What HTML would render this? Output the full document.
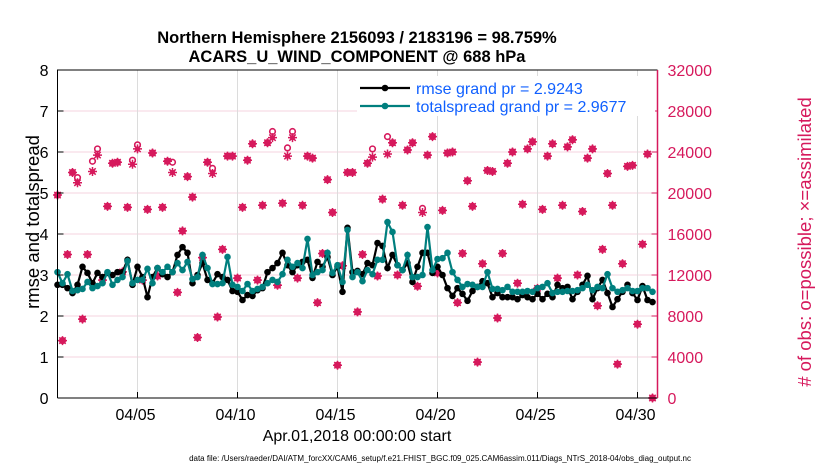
<!DOCTYPE html>
<html><head><meta charset="utf-8"><style>
html,body{margin:0;padding:0;background:#fff;}
svg{display:block;font-family:"Liberation Sans",sans-serif;}
</style></head><body>
<svg id="chart" width="830" height="470" viewBox="0 0 830 470" xmlns="http://www.w3.org/2000/svg">
<rect width="830" height="470" fill="#fff"/>
<text x="357" y="43" text-anchor="middle" font-size="16.5" font-weight="bold">Northern Hemisphere 2156093 / 2183196 = 98.759%</text>
<text x="357" y="62" text-anchor="middle" font-size="16.5" font-weight="bold">ACARS_U_WIND_COMPONENT @ 688 hPa</text>
<g id="grid"></g>
<g id="obs"></g>
<g id="lines"></g>
<g id="axes"></g>
<text transform="translate(39,222) rotate(-90)" text-anchor="middle" font-size="18.5">rmse and totalspread</text>
<text transform="translate(811,242) rotate(-90)" text-anchor="middle" font-size="18.5" fill="#d6195c"># of obs: o=possible; ×=assimilated</text>
<text x="357" y="441" text-anchor="middle" font-size="16">Apr.01,2018 00:00:00 start</text>
<text x="440" y="461" text-anchor="middle" font-size="8">data file: /Users/raeder/DAI/ATM_forcXX/CAM6_setup/f.e21.FHIST_BGC.f09_025.CAM6assim.011/Diags_NTrS_2018-04/obs_diag_output.nc</text>
<g id="legend"></g>
</svg>
<script>
const xTickLabels = ["04/05","04/10","04/15","04/20","04/25","04/30"];
const xTickDays = [4,9,14,19,24,29];
const yTicks = [0,1,2,3,4,5,6,7,8];
const y2Ticks = [0,4000,8000,12000,16000,20000,24000,28000,32000];
const stepDays = 0.25;
const rmse = [2.76,2.76,2.68,2.56,2.76,3.20,3.05,2.80,3.05,2.95,3.05,3.00,3.07,3.07,3.37,2.76,3.20,2.95,2.46,2.95,
3.17,3.02,2.95,3.07,3.49,3.68,3.54,2.80,3.00,3.29,2.88,2.80,3.02,2.95,2.88,2.61,2.59,2.39,2.51,2.49,
2.63,2.68,3.07,3.17,3.29,3.54,3.24,3.07,3.24,3.32,3.37,2.93,3.32,3.20,3.44,3.00,3.20,2.59,4.15,3.07,
3.10,3.02,3.29,3.24,3.78,3.71,3.17,3.49,3.24,3.12,3.29,2.83,3.20,3.54,3.54,3.05,3.20,3.00,2.68,2.49,
2.68,2.54,2.37,2.61,2.71,2.85,2.80,2.46,2.56,2.46,2.46,2.46,2.41,2.51,2.46,2.41,2.54,2.41,2.54,2.46,
2.76,2.68,2.71,2.41,2.59,2.76,2.98,2.41,2.68,2.88,2.56,2.22,2.41,2.59,2.76,2.56,2.39,2.73,2.39,2.34];
const spread = [3.07,2.80,3.02,2.61,2.63,2.66,2.83,2.68,2.73,2.80,3.07,2.76,2.88,2.95,3.34,2.80,2.88,2.88,3.15,2.80,
3.17,3.07,3.20,3.07,3.29,3.12,3.32,2.90,2.95,3.49,3.17,2.78,2.78,2.80,3.44,2.76,2.71,2.61,2.78,2.61,
2.66,2.71,2.80,2.88,2.83,3.02,3.37,3.20,3.29,3.17,3.88,3.00,3.07,3.12,3.54,3.05,3.24,2.83,4.10,2.95,
3.07,2.85,3.12,3.02,3.37,3.37,4.29,4.05,3.24,3.12,3.49,2.95,2.95,3.00,4.17,3.12,3.39,3.41,3.54,3.07,
2.88,2.71,2.78,2.76,2.71,2.71,3.07,2.66,2.66,2.63,2.71,2.59,2.59,2.59,2.61,2.59,2.68,2.71,2.80,2.56,
2.59,2.59,2.61,2.61,2.63,2.68,2.76,2.63,2.71,2.68,3.02,2.68,2.59,2.63,2.68,2.61,2.61,2.68,2.68,2.59];
const obsAssim = [19800,5600,14000,22000,21000,7700,14000,22100,23700,11500,18700,22900,23000,12300,18600,22800,24300,11500,18400,23900,
11900,18600,23100,22000,10300,16300,21600,19600,5900,13700,23000,21900,7900,14500,23600,23600,11700,18600,23200,24800,
11500,18800,24900,25400,11000,19000,23600,25400,11700,18800,23600,23400,9300,14100,21300,18100,3200,12900,22000,22000,
8400,14000,22900,23500,11900,19400,23800,24900,12000,18800,24200,24900,10900,18100,23700,25500,12200,18300,23900,24000,
9300,14100,21200,18700,3500,13100,22200,22100,7800,14100,22900,24000,11200,18900,24300,25000,10700,18400,23600,24800,
11700,18800,24500,25200,12000,18200,23400,24300,9000,14500,21900,18800,3300,13100,22600,22700,7200,15000,23800,0];
const obsPossible = obsAssim.slice();
const possibleIdx = [4,7,8,15,16,23,31,43,46,47,63,66,73];
const possibleVal = [21500,23100,24300,23200,24700,23000,22400,26000,24400,26000,24300,25500,18500];
possibleIdx.forEach((k,i)=>{obsPossible[k]=possibleVal[i];});
const legendLabels = ["rmse grand pr = 2.9243","totalspread grand pr = 2.9677"];

const L=57.5,R=657.5,T=70,B=398;
const NS="http://www.w3.org/2000/svg";
const xS=d=>L+(d/30)*(R-L);
const yS=v=>B-(v/8)*(B-T);
const y2S=v=>B-(v/32000)*(B-T);
function mk(tag,attrs,parent){const e=document.createElementNS(NS,tag);for(const k in attrs)e.setAttribute(k,attrs[k]);parent.appendChild(e);return e;}
const grid=document.getElementById('grid'),axes=document.getElementById('axes'),obs=document.getElementById('obs'),lines=document.getElementById('lines'),leg=document.getElementById('legend');
yTicks.forEach(v=>{const y=yS(v);
 if(v>0&&v<8){const g=mk('line',{x1:L,x2:R,y1:y,y2:y,stroke:'#f5d3df','stroke-width':1},grid);
 
 }
 const t=mk('line',{x1:L,x2:L+6,y1:y,y2:y,stroke:'#000'},axes);
 
 
 const lb=mk('text',{x:L-9,y:y+6,'text-anchor':'end','font-size':16},axes);lb.textContent=v;
 
 
});
y2Ticks.forEach(v=>{const y=y2S(v);
 const t=mk('line',{x1:R-6,x2:R,y1:y,y2:y,stroke:'#d6195c'},axes);
 
 
 const lb=mk('text',{x:R+10,y:y+6,'font-size':16,fill:'#d6195c'},axes);lb.textContent=v;
 
 
});
xTickDays.forEach((d,i)=>{const x=xS(d);
 const g=mk('line',{x1:x,x2:x,y1:T,y2:B,stroke:'#dcdcdc'},grid);
 
 
 const t=mk('line',{x1:x,x2:x,y1:B-6,y2:B,stroke:'#000'},axes);
 
 
 const lb=mk('text',{x:x-2,y:B+22,'text-anchor':'middle','font-size':16},axes);lb.textContent=xTickLabels[i];
 
 
});
const fr=mk('path',{d:`M${L},${B}V${T}H${R}M${L},${B}H${R}`,stroke:'#000',fill:'none'},axes);


const ra=mk('line',{x1:R,x2:R,y1:T,y2:B,stroke:'#d6195c','stroke-width':1.5},axes);


const pink='#d6195c';
obsPossible.forEach((v,k)=>{const x=xS(k*stepDays),y=y2S(v);
 if(y<T-2||x>R+1)return;
 const c=mk('circle',{cx:x,cy:y,r:2.8,fill:'#fff',stroke:pink,'stroke-width':1.6},obs);
 
 
});
obsAssim.forEach((v,k)=>{const x=xS(k*stepDays),y=y2S(v);
 if(x>R+1)return;
 const g=mk('g',{},obs);
 
 
 mk('circle',{cx:x,cy:y,r:2.6,fill:pink},g);
 mk('path',{d:`M${x-4.5},${y}H${x+4.5}M${x},${y-4.5}V${y+4.5}M${x-3.2},${y-3.2}L${x+3.2},${y+3.2}M${x-3.2},${y+3.2}L${x+3.2},${y-3.2}`,stroke:pink,'stroke-width':1.5},g);
});
function series(vals,color,name){
 const pts=vals.map((v,k)=>[xS(k*stepDays),yS(v)]);
 const p=mk('polyline',{points:pts.map(p=>p.join(',')).join(' '),fill:'none',stroke:color,'stroke-width':2.2},lines);
 
 
 pts.forEach(q=>{const c=mk('circle',{cx:q[0],cy:q[1],r:3.3,fill:color},lines);
  
  });
}
series(rmse,'#000','rmse');
series(spread,'#007f7e','totalspread');
const lbg=mk('rect',{x:357,y:76,width:298,height:40,fill:'#fff'},leg);


[['#000',0],['#007f7e',1]].forEach(([c,i])=>{const y=88+i*18;
 const g=mk('g',{},leg);
 
 
 mk('line',{x1:360,x2:410,y1:y,y2:y,stroke:c,'stroke-width':2.2},g);
 mk('circle',{cx:385,cy:y,r:3.3,fill:c},g);
 const t=mk('text',{x:416,y:y+6,'font-size':16,fill:'#1060ff'},g);t.textContent=legendLabels[i];
});
</script>
</body></html>
